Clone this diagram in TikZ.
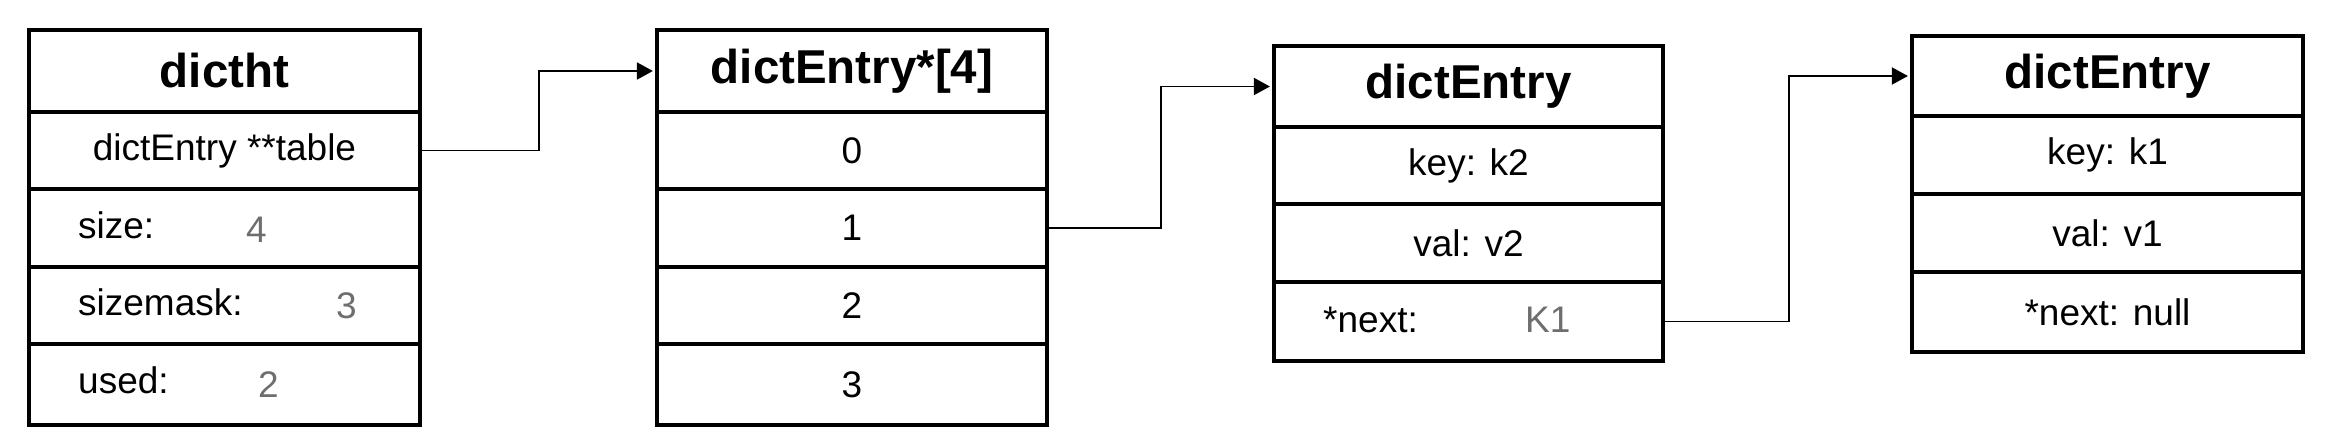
\documentclass[tikz,border=0pt]{standalone}
\usepackage{fontspec}
\setmainfont{Liberation Sans}
\usetikzlibrary{arrows.meta}
\definecolor{valgray}{HTML}{6E6E6E}
\tikzset{
  cell/.style={draw, line width=4.2pt, inner sep=0pt, font=\fontsize{37}{42}\selectfont},
  head/.style={cell, font=\fontsize{47.5}{52}\selectfont\bfseries},
  lbl/.style={anchor=base west, inner sep=0pt, font=\fontsize{37}{42}\selectfont},
  val/.style={lbl, text=valgray},
  link/.style={line width=1.8pt, shorten >=2pt, -{Triangle[length=16pt,width=17pt]}},
}
\begin{document}
\begin{tikzpicture}[x=1pt,y=-1pt]
\useasboundingbox (0,0) rectangle (2344,434);
% dictht
\node[head, minimum width=391pt, minimum height=82pt] (h1) at (224.5,71) {dictht};
\node[cell, minimum width=391pt, minimum height=77pt] (t1) at (224.5,150.5) {dictEntry **table};
\node[cell, minimum width=391pt, minimum height=78pt] (s1) at (224.5,228) {};
\node[cell, minimum width=391pt, minimum height=77pt] (m1) at (224.5,305.5) {};
\node[cell, minimum width=391pt, minimum height=81pt] (u1) at (224.5,384.5) {};
\node[lbl] (s1l) at (78,238) {size:};
\node[val] (s1v) at (246,242) {4};
\node[lbl] (m1l) at (78,315) {sizemask:};
\node[val] (m1v) at (336,318) {3};
\node[lbl] (u1l) at (78,393) {used:};
\node[val] (u1v) at (258,397) {2};
% dictEntry*[4]
\node[head, minimum width=390pt, minimum height=82pt] (h2) at (852,71) {dictEntry*[4]};
\node[cell, minimum width=390pt, minimum height=77pt] (a0) at (852,150.5) {0};
\node[cell, minimum width=390pt, minimum height=78pt] (a1) at (852,228) {1};
\node[cell, minimum width=390pt, minimum height=77pt] (a2) at (852,305.5) {2};
\node[cell, minimum width=390pt, minimum height=81pt] (a3) at (852,384.5) {3};
% dictEntry k2
\node[head, minimum width=389pt, minimum height=81pt] (h3) at (1468.5,86.5) {dictEntry};
\node[cell, minimum width=389pt, minimum height=77pt] (k3) at (1468.5,165.5) {key: k2};
\node[cell, minimum width=389pt, minimum height=78pt] (v3) at (1468.5,243) {val: v2};
\node[cell, minimum width=389pt, minimum height=79pt] (n3) at (1468.5,321.5) {};
\node[lbl] (n3l) at (1323,332) {*next:};
\node[val] (n3v) at (1525,332) {K1};
% dictEntry k1
\node[head, minimum width=391pt, minimum height=80pt] (h4) at (2107.5,76) {dictEntry};
\node[cell, minimum width=391pt, minimum height=78pt] (k4) at (2107.5,155) {key: k1};
\node[cell, minimum width=391pt, minimum height=78pt] (v4) at (2107.5,233) {val: v1};
\node[cell, minimum width=391pt, minimum height=80pt] (n4) at (2107.5,312) {*next: null};
% connectors
\coordinate (j1) at (539,0);
\coordinate (j2) at (1161,0);
\coordinate (j3) at (1789,0);
\draw[link] (t1.east) -| (j1 |- h2.west) -- (h2.west);
\draw[link] (a1.east) -| (j2 |- h3.west) -- (h3.west);
\draw[link] (n3.east) -| (j3 |- h4.west) -- (h4.west);
\end{tikzpicture}
\end{document}
